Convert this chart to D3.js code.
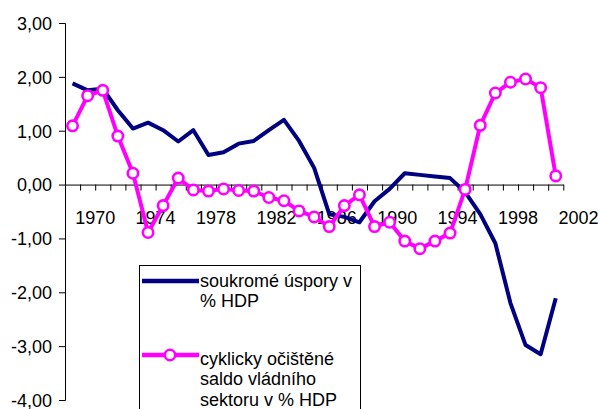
<!DOCTYPE html>
<html>
<head>
<meta charset="utf-8">
<script src="https://cdn.jsdelivr.net/npm/d3@7"></script>
<style>
  body { margin: 0; background: #fff; }
  text { font-family: "Liberation Sans", Arial, sans-serif; fill: #000; }
</style>
</head>
<body>
<div id="chart"></div>
<script>
// categories (one point per year)
const years = [1968, 1969, 1970, 1971, 1972, 1973, 1974, 1975, 1976, 1977, 1978,
               1979, 1980, 1981, 1982, 1983, 1984, 1985, 1986, 1987, 1988, 1989,
               1990, 1991, 1992, 1993, 1994, 1995, 1996, 1997, 1998, 1999, 2000]

// soukromé úspory v % HDP
const privateSavings = [1.88, 1.75, 1.78, 1.38, 1.04, 1.15, 1.01, 0.80, 1.01, 0.55, 0.60,
                        0.76, 0.81, 1.01, 1.20, 0.81, 0.31, -0.55, -0.60, -0.70, -0.31, -0.08,
                        0.21, 0.18, 0.15, 0.12, -0.14, -0.55, -1.09, -2.20, -2.98, -3.15, -2.11]

// cyklicky očištěné saldo vládního sektoru v % HDP
const govBalance = [1.09, 1.65, 1.75, 0.90, 0.21, -0.89, -0.39, 0.12, -0.10, -0.12, -0.08,
                    -0.11, -0.12, -0.24, -0.30, -0.49, -0.60, -0.78, -0.39, -0.19, -0.78, -0.70,
                    -1.05, -1.19, -1.05, -0.90, -0.09, 1.10, 1.70, 1.90, 1.96, 1.80, 0.16]

const xTickLabels = [1970, 1974, 1978, 1982, 1986, 1990, 1994, 1998, 2002]
const yTicks = [3, 2, 1, 0, -1, -2, -3, -4]

const legendLabels = [
  ['soukromé úspory v', '% HDP'],
  ['cyklicky očištěné', 'saldo vládního', 'sektoru v % HDP']
]

const width = 599,
      height = 409

const xScale = d3.scaleLinear()
                 .domain([1968, 2001])
                 .range([65, 563.3]),
      yScale = d3.scaleLinear()
                 .domain([-4, 3])
                 .range([400, 23])

const fmt = d3.formatLocale({
  decimal: ',', thousands: ' ', grouping: [3], currency: ['', ''], minus: '-'
}).format('.2f')

const svg = d3.select('#chart')
              .append('svg')
              .attr('width', width)
              .attr('height', height)

// y axis
const yAxis = d3.axisLeft(yScale)
                .tickValues(yTicks)
                .tickSize(6)
                .tickPadding(7)
                .tickFormat(fmt)

svg.append('g')
   .attr('transform', 'translate(' + xScale(1968) + ', 0)')
   .call(yAxis)
   .call(g => g.selectAll('text').style('font-size', '18px').attr('dy', '0.35em'))
   .call(g => g.selectAll('path, line').attr('stroke', '#000'))

// x axis: a tick every year, labels every 4 years
const xAxisG = svg.append('g')
                  .attr('transform', 'translate(0, ' + yScale(0) + ')')

xAxisG.call(d3.axisBottom(xScale)
              .tickValues(d3.range(1968, 2002))
              .tickSize(6)
              .tickSizeOuter(0)
              .tickFormat(''))
      .call(g => g.selectAll('path, line').attr('stroke', '#000'))

xAxisG.selectAll('.year-label')
      .data(xTickLabels)
      .enter()
      .append('text')
      .attr('class', 'year-label')
      .attr('x', d => xScale(d))
      .attr('y', 39)
      .attr('text-anchor', 'middle')
      .style('font-size', '18px')
      .text(d => d)

const line = d3.line()
               .x((d, i) => xScale(years[i] + 0.5))
               .y(d => yScale(d))

svg.append('path')
   .datum(privateSavings)
   .attr('d', line)
   .attr('fill', 'none')
   .attr('stroke', '#000080')
   .attr('stroke-width', 4)
   .attr('stroke-linejoin', 'round')

svg.append('path')
   .datum(govBalance)
   .attr('d', line)
   .attr('fill', 'none')
   .attr('stroke', '#ff00ff')
   .attr('stroke-width', 4)
   .attr('stroke-linejoin', 'round')

svg.selectAll('.gov-dot')
   .data(govBalance)
   .enter()
   .append('circle')
   .attr('class', 'gov-dot')
   .attr('cx', (d, i) => xScale(years[i] + 0.5))
   .attr('cy', d => yScale(d))
   .attr('r', 5.2)
   .attr('fill', '#fff')
   .attr('stroke', '#ff00ff')
   .attr('stroke-width', 2.6)

// legend
const legend = svg.append('g')

legend.append('rect')
      .attr('x', 139.5)
      .attr('y', 265.5)
      .attr('width', 221)
      .attr('height', 160)
      .attr('fill', '#fff')
      .attr('stroke', '#000')
      .attr('stroke-width', 1)

legend.append('line')
      .attr('x1', 142).attr('x2', 199)
      .attr('y1', 281).attr('y2', 281)
      .attr('stroke', '#000080')
      .attr('stroke-width', 4.5)

legend.append('line')
      .attr('x1', 142).attr('x2', 199)
      .attr('y1', 355).attr('y2', 355)
      .attr('stroke', '#ff00ff')
      .attr('stroke-width', 4.5)

legend.append('circle')
      .attr('cx', 170).attr('cy', 355)
      .attr('r', 5.2)
      .attr('fill', '#fff')
      .attr('stroke', '#ff00ff')
      .attr('stroke-width', 2.6)

const legendTop = [287, 365]
legendLabels.forEach(function(lines, k) {
  legend.append('text')
        .attr('x', 200)
        .attr('y', legendTop[k])
        .style('font-size', '18px')
        .selectAll('tspan')
        .data(lines)
        .enter()
        .append('tspan')
        .attr('x', 200)
        .attr('dy', (d, i) => i === 0 ? 0 : 20.3)
        .text(d => d)
})
</script>
</body>
</html>
